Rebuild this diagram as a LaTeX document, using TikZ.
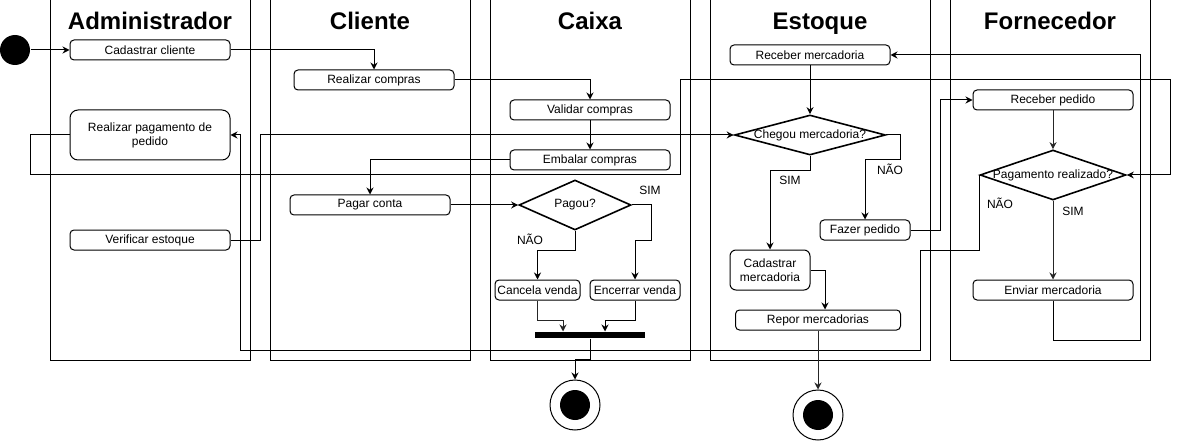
\documentclass[tikz,border=0pt]{standalone}
\usepackage{fontspec}
\setmainfont{Liberation Sans}
\usetikzlibrary{arrows.meta,shapes.geometric}

\begin{document}
\begin{tikzpicture}[x=1pt,y=-1pt,line width=1pt,
    every node/.style={font=\fontsize{12}{14}\selectfont},
    lane/.style={draw,minimum width=200,minimum height=360,inner sep=0},
    lanetitle/.style={font=\fontsize{24}{28}\selectfont\bfseries,anchor=base},
    act/.style={draw,fill=white,rounded corners=4pt,minimum height=20,inner sep=0,align=center},
    dec/.style={draw,fill=white,diamond,inner sep=0,line width=1.6pt},
    flow/.style={-{Stealth[length=7pt,width=7pt]}},
    lbl/.style={anchor=base},
    fim/.style={circle,draw,minimum size=50,inner sep=0,
        path picture={\fill (path picture bounding box.center) circle (15pt);}}
    ]
    \useasboundingbox (0,0) rectangle (1179,441);
    % raias
    \node[lane] (radm) at (150,180) {};
    \node[lane] (rcli) at (370,180) {};
    \node[lane] (rcai) at (590,180) {};
    \node[lane,minimum width=220] (rest) at (820,180) {};
    \node[lane] (rfor) at (1050,180) {};
    \node[lanetitle] (tadm) at (150,29.5) {Administrador};
    \node[lanetitle] (tcli) at (370,29.5) {Cliente};
    \node[lanetitle] (tcai) at (590,29.5) {Caixa};
    \node[lanetitle] (test) at (820,29.5) {Estoque};
    \node[lanetitle] (tfor) at (1050,29.5) {Fornecedor};
    %
    \node[circle,fill=black,minimum size=30,inner sep=0] (ini) at (15,50) {};
    \node[act,minimum width=160] (cadc) at (150,50) {Cadastrar cliente};
    \node[act,minimum width=160,minimum height=50,rounded corners=8pt] (rpag) at (150,135) {Realizar pagamento de\\pedido};
    \node[act,minimum width=160] (vest) at (150,240) {Verificar estoque};
    \node[act,minimum width=160] (rcomp) at (374,80) {Realizar compras};
    \node[act,minimum width=160] (pagc) at (370,205) {Pagar conta};
    \node[act,minimum width=160] (val) at (590,110) {Validar compras};
    \node[act,minimum width=160] (emb) at (590,160) {Embalar compras};
    \node[dec,minimum width=112,minimum height=50,label=center:Pagou?] (pagou) at (575,205) {};
    \node[act,minimum width=85] (cancv) at (537.5,290) {Cancela venda};
    \node[act,minimum width=90] (encv) at (635,290) {Encerrar venda};
    \node[fill=black,minimum width=110,minimum height=6,inner sep=0] (bar) at (590,335) {};
    \node[fim] (fim1) at (575,405) {};
    \node[act,minimum width=160] (rmerc) at (810,55) {Receber mercadoria};
    \node[dec,minimum width=151,minimum height=40,label=center:Chegou mercadoria?] (chk) at (810,135) {};
    \node[act,minimum width=90] (fped) at (865,230) {Fazer pedido};
    \node[act,minimum width=80,minimum height=40,rounded corners=6pt] (cadm) at (770,270) {Cadastrar\\mercadoria};
    \node[act,minimum width=165] (repor) at (818,320) {Repor mercadorias};
    \node[fim] (fim2) at (818,415) {};
    \node[act,minimum width=160] (rped) at (1053,100) {Receber pedido};
    \node[dec,minimum width=146,minimum height=50,label=center:Pagamento realizado?] (pgr) at (1053,175) {};
    \node[act,minimum width=160] (envm) at (1053,290) {Enviar mercadoria};
    %
    \draw[flow] (ini.east) -- (cadc.west);
    \draw[flow] (cadc.east) -| (rcomp.north);
    \draw[flow] (rcomp.east) -| (val.north);
    \draw[flow] (val.south) -- (emb.north);
    \draw[flow] (emb.west) -| (pagc.north);
    \draw[flow] (pagc.east) -- (pagou.west);
    \draw[flow] (pagou.east) -- ++(20,0) -- ++(0,35) -| (encv.north);
    \draw[flow] (pagou.south) -- ++(0,20) -| (cancv.north);
    \draw[flow,black!85] (cancv.south) -- ++(0,20) -| ([xshift=-27pt]bar.north);
    \draw[flow] (encv.south) -- ++(0,20) -| ([xshift=15pt]bar.north);
    \draw[flow] (bar.south) -- ++(0,21) -| (fim1.north);
    \draw[flow] (vest.east) -| (260,135) -- (chk.west);
    \draw[flow] (rpag.west) -| (30,175) -| (680,80) -| (1170,175) -- (pgr.east);
    \draw[flow] (pgr.west) |- (920,250) |- (240,350) |- (rpag.east);
    \draw[flow] (rmerc.south) -- (chk.north);
    \draw[flow] (chk.south) -- ++(0,15) -| (cadm.north);
    \draw[flow] (chk.east) -| (900,160) -| (fped.north);
    \draw[flow] (fped.east) -| (940,100) -- (rped.west);
    \draw[flow] (cadm.east) -| ([xshift=7pt]repor.north);
    \draw[flow,black!85] (repor.south) -- (fim2.north);
    \draw[flow,black!85] (rped.south) -- (pgr.north);
    \draw[flow,black!85] (pgr.south) -- (envm.north);
    \draw[flow] (envm.south) |- (1140,340) |- (rmerc.east);
    %
    \node[lbl] (sim1) at (650,195) {SIM};
    \node[lbl] (nao1) at (530,244) {NÃO};
    \node[lbl] (sim2) at (790,185) {SIM};
    \node[lbl] (nao2) at (890,175) {NÃO};
    \node[lbl] (nao3) at (1000,209) {NÃO};
    \node[lbl] (sim3) at (1073,215) {SIM};
\end{tikzpicture}
\end{document}
